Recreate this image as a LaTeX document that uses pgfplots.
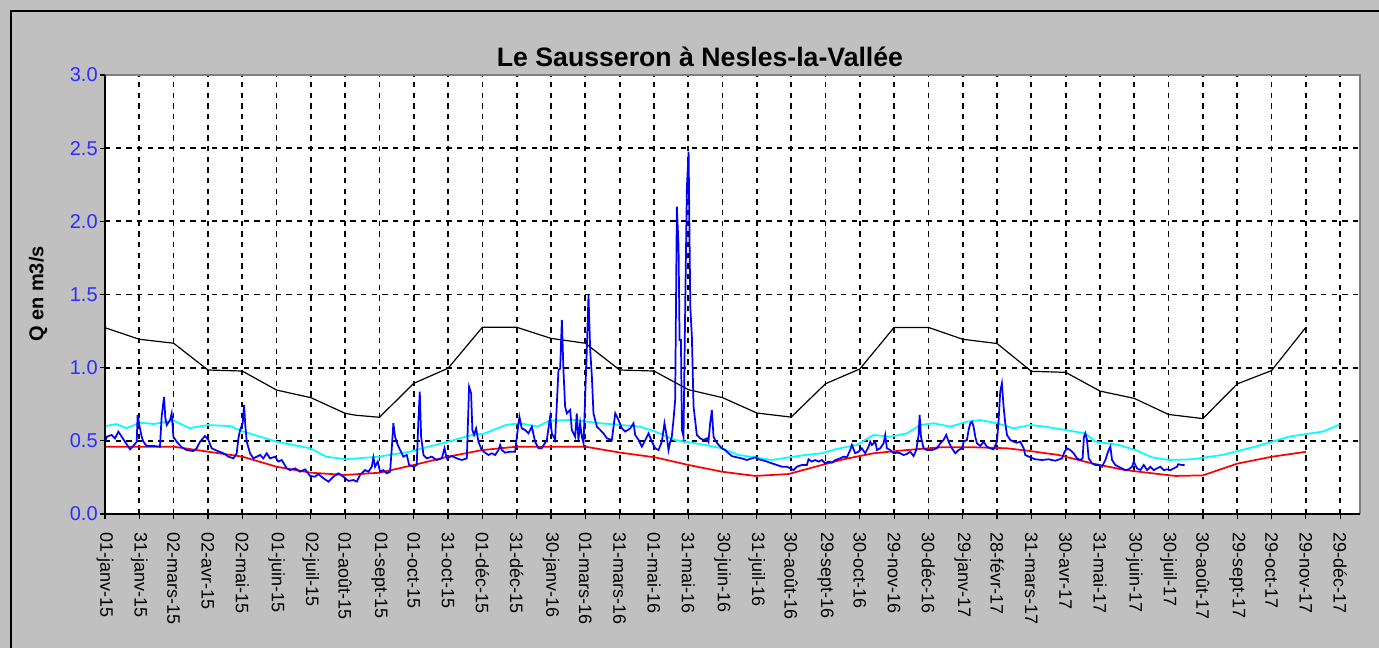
\documentclass[border=0pt]{standalone}
\usepackage{pgfplots}
\pgfplotsset{compat=1.18}
\usepackage{fontspec}
\setmainfont{Liberation Sans}
\definecolor{bg}{RGB}{192,192,192}
\definecolor{ticblue}{RGB}{45,45,255}
\definecolor{frameg}{RGB}{128,128,128}
\definecolor{cyn}{RGB}{0,255,255}
\definecolor{blu}{RGB}{0,0,255}
\definecolor{rd}{RGB}{255,0,0}
\begin{document}
\begin{tikzpicture}
\fill[bg] (0,0) rectangle (1034.25pt,486pt);
\draw[black, line width=1.5pt] (8.25pt,-10pt) -- (8.25pt,477.75pt) -- (1050pt,477.75pt);
\node[font=\fontsize{20}{22}\selectfont\bfseries] at (525pt,443.5pt) {Le Sausseron à Nesles-la-Vallée};
\node[font=\fontsize{15}{16}\selectfont\bfseries, rotate=90] at (28.5pt,265.5pt) {Q en m3/s};
\begin{axis}[
  at={(78.75pt,100.5pt)}, anchor=south west,
  scale only axis, width=941.25pt, height=329.25pt,
  xmin=0, xmax=1112, ymin=0, ymax=3,
  axis background/.style={fill=white},
  axis line style={draw=none},
  xtick={0,30.4,...,1095},
  xticklabels={01-janv-15,31-janv-15,02-mars-15,02-avr-15,02-mai-15,01-juin-15,02-juil-15,01-août-15,01-sept-15,01-oct-15,31-oct-15,01-déc-15,31-déc-15,30-janv-16,01-mars-16,31-mars-16,01-mai-16,31-mai-16,30-juin-16,31-juil-16,30-août-16,29-sept-16,30-oct-16,29-nov-16,30-déc-16,29-janv-17,28-févr-17,31-mars-17,30-avr-17,31-mai-17,30-juin-17,30-juil-17,30-août-17,29-sept-17,29-oct-17,29-nov-17,29-déc-17},
  ytick={0,0.5,...,3},
  xtick pos=bottom, ytick pos=left,
  grid=major,
  major grid style={black, line width=1.3pt, dash pattern=on 4pt off 4pt},
  tick align=center, major tick length=8pt,
  tick style={black, line width=0.9pt},
  xticklabel style={rotate=-90, anchor=west, font=\fontsize{13.5}{14}\selectfont, xshift=6pt},
  yticklabel style={font=\fontsize{15}{16}\selectfont, text=ticblue, xshift=2pt, /pgf/number format/.cd, fixed, fixed zerofill, precision=1},
  /pgf/number format/assume math mode=true,
  clip=true,
]
% black reference line
\addplot[black, line width=0.9pt] coordinates {
(0,1.273)(30.4,1.194)(60.8,1.167)(91.2,0.984)(121.6,0.977)(152,0.847)(182.4,0.795)(212.8,0.688)(222,0.675)(243.2,0.661)(273.6,0.893)(304,0.996)(334.4,1.276)(364.8,1.276)(395.2,1.20)(425.6,1.167)(456,0.984)(486.4,0.977)(516.8,0.85)(547.2,0.795)(577.6,0.69)(608,0.662)(638.4,0.89)(668.8,0.991)(699.2,1.275)(729.6,1.275)(760,1.194)(790.4,1.165)(820.8,0.975)(851.2,0.968)(881.6,0.84)(912,0.79)(942.4,0.68)(972.8,0.652)(1003.2,0.889)(1033.6,0.98)(1064,1.275)
};
% cyan line
\addplot[cyn, line width=1.3pt] coordinates {
(0,0.60)(10,0.615)(19,0.586)(31,0.624)(43,0.615)(61,0.638)(75,0.586)(91,0.608)(111,0.601)(121,0.567)(152,0.494)(182,0.449)(196,0.392)(213,0.374)(243,0.392)(270,0.426)(304,0.494)(325,0.54)(335,0.547)(356,0.61)(368,0.62)(383,0.597)(394,0.638)(415,0.643)(439,0.62)(474,0.597)(487.5,0.563)(505,0.506)(531.8,0.472)(546.6,0.449)(561.3,0.403)(576,0.387)(590.9,0.369)(605.6,0.387)(620.4,0.403)(635.2,0.415)(647,0.442)(655.9,0.456)(666.2,0.472)(681,0.54)(695.8,0.528)(710.5,0.551)(722.4,0.608)(734.2,0.62)(749,0.597)(763.7,0.631)(775.5,0.642)(790.3,0.62)(805.1,0.585)(819.9,0.608)(833.1,0.597)(850.9,0.574)(868.6,0.551)(877.5,0.494)(898.2,0.472)(913,0.437)(927.8,0.387)(942.6,0.369)(963.3,0.374)(989.6,0.403)(1019.2,0.46)(1049.4,0.529)(1079.5,0.564)(1093.7,0.61)
};
% red line
\addplot[rd, line width=1.3pt] coordinates {
(0,0.46)(30.4,0.46)(60.8,0.46)(91.2,0.426)(121.6,0.392)(152,0.323)(182.4,0.282)(212.8,0.267)(243.2,0.282)(273.6,0.335)(304,0.392)(334.4,0.437)(364.8,0.46)(395.2,0.46)(425.6,0.46)(456,0.42)(487.5,0.387)(517,0.335)(546.6,0.289)(576,0.26)(605.6,0.273)(635.2,0.335)(655,0.375)(681,0.415)(710.5,0.437)(740.1,0.456)(769.6,0.456)(799.2,0.449)(819.9,0.43)(845,0.403)(874.5,0.346)(904,0.30)(933.7,0.273)(948.5,0.26)(972.8,0.264)(1003.2,0.344)(1033.6,0.391)(1064,0.425)
};
% blue measured flow
\addplot[blu, line width=1.3pt] coordinates {
(0,0.494)(1.5,0.528)(5.9,0.54)(8.9,0.517)(11.8,0.563)(14.8,0.528)(17.7,0.494)(22.2,0.442)(25.1,0.465)(28.1,0.494)(28.9,0.677)(30.4,0.608)(32.5,0.528)(34,0.494)(36.9,0.465)(42.8,0.465)(48.7,0.46)(50.2,0.665)(52.3,0.80)(53.5,0.654)(54.7,0.608)(57.6,0.642)(59.1,0.688)(60.6,0.528)(63.5,0.494)(67.9,0.456)(72.4,0.437)(78.3,0.43)(81.2,0.449)(84.2,0.494)(88.6,0.533)(91.6,0.506)(94.5,0.449)(99,0.433)(104.9,0.415)(109.3,0.392)(113.8,0.38)(116.7,0.415)(118.2,0.517)(119.7,0.574)(122,0.62)(123.2,0.745)(124.4,0.597)(125.6,0.494)(128.5,0.415)(131.5,0.38)(137.4,0.403)(140.3,0.38)(143.3,0.415)(146.2,0.38)(150.7,0.392)(153.6,0.358)(156.6,0.369)(161,0.312)
(164,0.30)(168.4,0.312)(172.8,0.289)(177.3,0.305)(181.7,0.26)(186.1,0.255)(189.1,0.273)(193.5,0.244)(198,0.221)(202.4,0.255)(206.8,0.278)(211.2,0.255)(215.7,0.226)(220.1,0.232)(223.1,0.221)(226,0.267)(230.4,0.30)(233.4,0.289)(236.4,0.323)(237.8,0.387)(239.3,0.323)(241.7,0.358)(243.7,0.289)(246.6,0.30)(249.6,0.278)(252.6,0.289)(254,0.437)(255.5,0.62)(257,0.528)(259.4,0.472)(261.5,0.437)(264.4,0.392)(267.4,0.403)(269.5,0.335)(273.3,0.323)(276.2,0.335)(277.7,0.642)(278.9,0.836)(280.1,0.528)(282.2,0.403)(285.1,0.38)(289.5,0.392)(294,0.369)(298.4,0.38)(300.8,0.449)(302.8,0.38)(307.3,0.396)(311.7,0.38)(316.1,0.369)(320.6,0.38)(322.6,0.87)(324.4,0.825)(325.5,0.574)(327,0.54)(328.8,0.585)(330.9,0.494)(333.8,0.437)(336.8,0.419)(339.8,0.403)(342.7,0.415)(345.7,0.403)(348.6,0.437)(350.1,0.472)(351.6,0.437)(354.5,0.419)(359,0.426)(363.4,0.426)(364.9,0.528)(367.2,0.665)(369.3,0.585)(372.3,0.574)(375.2,0.551)(378.2,0.597)(381.1,0.494)(384.1,0.449)
(387,0.45)(391.5,0.506)(394.4,0.665)(395.9,0.551)(398.8,0.506)(401.8,0.984)(403.3,0.995)(404.8,1.326)(406.2,0.984)(407.7,0.733)(409.2,0.688)(412.2,0.711)(413.6,0.574)(416.6,0.528)(418,0.688)(419.5,0.506)(421,0.62)(422.5,0.528)(424,0.483)(426.9,1.121)(428.4,1.497)(429.9,1.121)(431.4,0.939)(432.8,0.688)(435.8,0.597)(438.8,0.574)(441.7,0.551)(444.7,0.517)(449.1,0.506)(452.1,0.688)(455,0.642)(458,0.585)(460.9,0.563)(465.4,0.585)(468.3,0.62)(469.8,0.54)(472.8,0.506)(475.7,0.46)(478.7,0.506)(481.6,0.551)(484.6,0.494)(487.5,0.449)
(490.4,0.437)(493.4,0.494)(495.7,0.62)(497.8,0.528)(499.3,0.437)(500.8,0.494)(502.2,0.528)(503.7,0.642)(505.2,0.779)(506.7,2.10)(508.2,1.827)(509.1,1.189)(510.3,1.189)(511.2,0.574)(512.6,0.528)(514.1,1.417)(515.6,2.237)(517.1,2.476)(518.6,1.417)(520,1.212)(521.5,0.733)(524.4,0.54)(527.4,0.517)(530.3,0.506)(533.3,0.517)(534.7,0.494)(536.2,0.62)(537.7,0.71)(539.2,0.528)(540.6,0.506)(543.6,0.472)(546.6,0.449)(549.5,0.437)(552.5,0.415)(555.4,0.396)(559.9,0.387)(564.2,0.38)(568.7,0.369)(573.1,0.38)(576.1,0.387)(579.1,0.374)(582,0.369)(586.5,0.358)(590.9,0.346)(595.3,0.335)(599.8,0.323)(604.2,0.323)(607.1,0.312)(610.1,0.30)(613,0.323)(617.5,0.335)(621.9,0.335)(623.4,0.374)(626.3,0.358)(629.3,0.369)(632.3,0.358)(635.2,0.369)(638.2,0.346)(641.1,0.358)(644.1,0.351)(647.1,0.369)(651.4,0.38)
(654.4,0.392)(657.3,0.387)(660.3,0.437)(661.8,0.472)(664.7,0.415)(667.7,0.426)(670.6,0.449)(673.6,0.415)(676.6,0.46)(678,0.494)(679.5,0.472)(682.5,0.494)(684,0.437)(686.9,0.449)(689.9,0.483)(691.3,0.54)(692.8,0.449)(695.8,0.437)(698.7,0.415)(701.7,0.419)(704.6,0.415)(707.6,0.403)(710.5,0.41)(713.5,0.426)(716.4,0.396)(718.8,0.437)(720.9,0.54)(721.8,0.677)(723,0.528)(725.3,0.449)(728.3,0.437)(732.7,0.437)(737.1,0.449)(740.1,0.483)(743,0.506)(745.4,0.54)(747.5,0.494)(750.4,0.449)(753.4,0.415)(756.3,0.437)(759.3,0.449)(760.8,0.494)(763.7,0.506)(765.2,0.574)(766.7,0.62)(768.1,0.631)(769.6,0.597)(771.1,0.528)(772.6,0.483)(775.5,0.465)(778.5,0.494)(781.4,0.46)(784.4,0.449)(787.3,0.442)(790.3,0.494)(791.8,0.642)(793.2,0.836)(794.7,0.893)(796.2,0.733)(797.7,0.62)(799.2,0.54)(802.1,0.506)(805.1,0.494)(808,0.487)(811,0.494)(814,0.449)
(815.4,0.403)(819.8,0.387)(824.3,0.374)(830.2,0.369)(836.1,0.374)(842,0.364)(848,0.38)(850.3,0.426)(852.4,0.449)(855.3,0.437)(858.3,0.415)(861.2,0.38)(864.2,0.369)(866.2,0.38)(867.4,0.528)(868.6,0.551)(870.1,0.506)(871.6,0.38)(874.5,0.346)(877.5,0.335)(880.5,0.335)(883.4,0.323)(886.4,0.369)(887.8,0.403)(889.3,0.437)(890.8,0.46)(892.3,0.369)(895.2,0.335)(898.2,0.323)(901.1,0.312)(904.1,0.30)(907.1,0.305)(910,0.323)(911.5,0.358)(914.4,0.312)(917.4,0.30)(920.4,0.335)(923.3,0.30)(926.3,0.323)(929.2,0.30)(932.2,0.312)(935.1,0.323)(938.1,0.30)(941.1,0.305)(944,0.30)(947,0.312)(949.9,0.323)(950.8,0.34)(954.4,0.335)(956.7,0.335)
};
\end{axis}
\draw[frameg, line width=1pt] (78.75pt,429.75pt) -- (1020pt,429.75pt) -- (1020pt,100.5pt);
\draw[black, line width=1.3pt] (78.75pt,429.75pt) -- (78.75pt,100.5pt) -- (1020pt,100.5pt);
\pgfresetboundingbox
\path (0,0) rectangle (1034.25pt,486pt);
\end{tikzpicture}
\end{document}
